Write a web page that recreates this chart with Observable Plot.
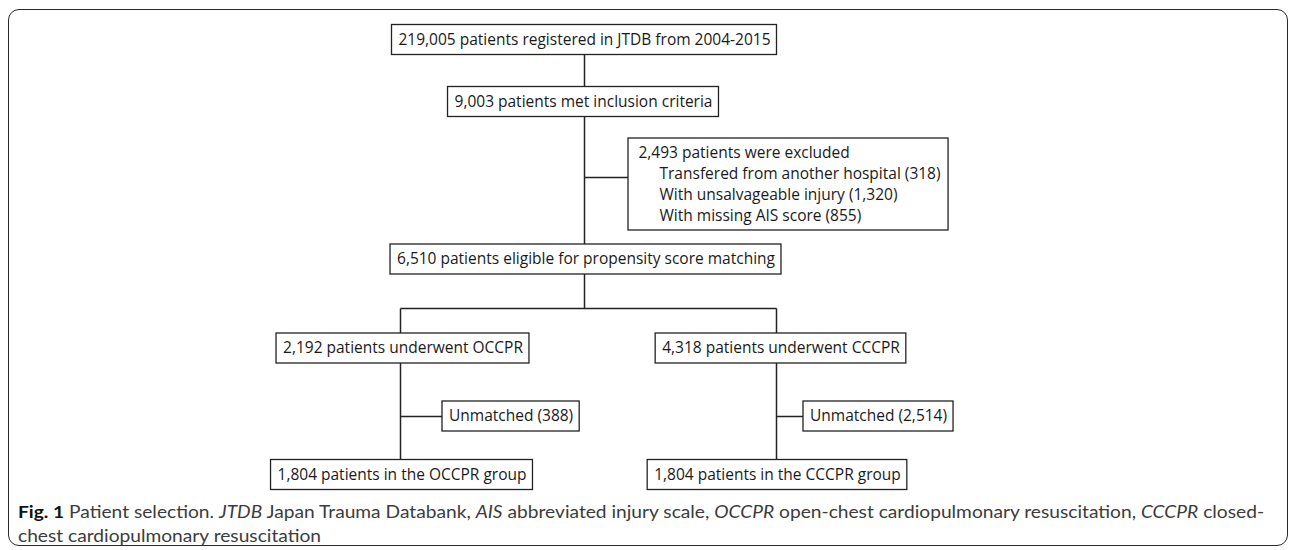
<!DOCTYPE html>
<html>
<head>
<meta charset="utf-8">
<script src="https://cdn.jsdelivr.net/npm/d3@7"></script>
<script src="https://cdn.jsdelivr.net/npm/@observablehq/plot@0.6"></script>
<style>
  html, body { margin: 0; padding: 0; background: #fff; }
  #wrap { position: relative; width: 1290px; height: 550px; overflow: hidden; }
  #frame { position: absolute; left: 8px; top: 9px; width: 1280px; height: 537px; box-sizing: border-box;
           border: 1.6px solid #2a2a2a; border-radius: 11px; }
  #chart { position: absolute; left: 0; top: 0; }
  #caption { position: absolute; left: 18px; top: 500px; font-family: Lato, "Open Sans", sans-serif;
             font-size: 17px; line-height: 24px; color: #3c3c3c; white-space: nowrap; transform-origin: 0 0; }
  #caption b { color: #111; font-weight: 700; }
</style>
</head>
<body>
<div id="wrap">
  <div id="frame"></div>
  <div id="chart"></div>
  <div id="caption"><span id="cap1"><b>Fig. 1</b> Patient selection. <i>JTDB</i> Japan Trauma Databank, <i>AIS</i> abbreviated injury scale, <i>OCCPR</i> open-chest cardiopulmonary resuscitation, <i>CCCPR</i> closed-</span><br><span>chest cardiopulmonary resuscitation</span></div>
</div>
<script>
// ---- data ----
const boxIds = ["registered", "included", "eligible", "occpr", "cccpr", "unmatchedO", "unmatchedC", "finalO", "finalC"];
const boxLabels = [
  "219,005 patients registered in JTDB from 2004-2015",
  "9,003 patients met inclusion criteria",
  "6,510 patients eligible for propensity score matching",
  "2,192 patients underwent OCCPR",
  "4,318 patients underwent CCCPR",
  "Unmatched (388)",
  "Unmatched (2,514)",
  "1,804 patients in the OCCPR group",
  "1,804 patients in the CCCPR group"
];
const exclusionHeader = "2,493 patients were excluded";
const exclusionReasons = ["Transfered from another hospital", "With unsalvageable injury", "With missing AIS score"];
const exclusionCounts = ["318", "1,320", "855"];

// ---- layout (flowchart geometry) ----
const layout = {
  registered: {cx: 584, cy: 39.5},
  included:   {cx: 583, cy: 101.5},
  eligible:   {cx: 585.5, cy: 259},
  occpr:      {cx: 402.5, cy: 348},
  cccpr:      {cx: 780.5, cy: 348},
  unmatchedO: {left: 442, cy: 416},
  unmatchedC: {left: 803, cy: 416},
  finalO:     {cx: 401.5, cy: 474.5},
  finalC:     {cx: 777, cy: 474.5}
};
const boxH = 30, pad = 6.5;
const excl = {left: 628, top: 138, bottom: 230, textX: 638, indentX: 659, lineY: [152.5, 173.5, 194.5, 215.5]};
const spineX = 584, splitY = 308, exclBranchY = 177, unmatchedY = 416;

const fontFamily = "'Open Sans', Lato, sans-serif";
const ctx = document.createElement("canvas").getContext("2d");
function measure(t, s) { ctx.font = `${s}px ${fontFamily}`; return ctx.measureText(t).width; }
const fontSize = 100 * 372 / measure(boxLabels[0], 100);

const nodes = boxIds.map((id, i) => {
  const L = layout[id];
  const w = measure(boxLabels[i], fontSize) + 2 * pad;
  const x1 = L.left !== undefined ? L.left : L.cx - w / 2;
  return {id, label: boxLabels[i], x1, x2: x1 + w, y1: L.cy - boxH / 2, y2: L.cy + boxH / 2, tx: x1 + w / 2, ty: L.cy};
});
const byId = Object.fromEntries(nodes.map(n => [n.id, n]));

const exclLines = [exclusionHeader, ...exclusionReasons.map((r, i) => `${r} (${exclusionCounts[i]})`)];
const exclText = exclLines.map((t, i) => ({text: t, x: i === 0 ? excl.textX : excl.indentX, y: excl.lineY[i]}));
const exclRight = d3.max(exclText, d => d.x + measure(d.text, fontSize)) + 8;
const exclBox = [{x1: excl.left, x2: exclRight, y1: excl.top, y2: excl.bottom}];

const oX = 400, cX = 776;
const links = [
  {x1: spineX, y1: byId.registered.ty, x2: spineX, y2: splitY},
  {x1: spineX, y1: exclBranchY, x2: excl.left, y2: exclBranchY},
  {x1: oX, y1: splitY, x2: cX, y2: splitY},
  {x1: oX, y1: splitY, x2: oX, y2: byId.finalO.ty},
  {x1: cX, y1: splitY, x2: cX, y2: byId.finalC.ty},
  {x1: oX, y1: unmatchedY, x2: layout.unmatchedO.left, y2: unmatchedY},
  {x1: cX, y1: unmatchedY, x2: layout.unmatchedC.left, y2: unmatchedY}
];

const chart = Plot.plot({
  width: 1290, height: 500, margin: 0,
  x: {type: "linear", domain: [0, 1290], range: [0, 1290], axis: null},
  y: {type: "linear", domain: [0, 500], range: [0, 500], axis: null},
  style: {background: "transparent"},
  marks: [
    Plot.link(links, {x1: "x1", y1: "y1", x2: "x2", y2: "y2", stroke: "#222", strokeWidth: 1.5}),
    Plot.rect(nodes, {x1: "x1", x2: "x2", y1: "y1", y2: "y2", fill: "white", stroke: "#222", strokeWidth: 1.3}),
    Plot.rect(exclBox, {x1: "x1", x2: "x2", y1: "y1", y2: "y2", fill: "white", stroke: "#222", strokeWidth: 1.3}),
    Plot.text(nodes, {x: "tx", y: "ty", text: "label", textAnchor: "middle", fontSize, fontFamily, fill: "#1a1a1a"}),
    Plot.text(exclText, {x: "x", y: "y", text: "text", textAnchor: "start", fontSize, fontFamily, fill: "#1a1a1a"})
  ]
});
document.getElementById("chart").appendChild(chart);

// fit caption line width to reference
const cap = document.getElementById("caption");
const w1 = document.getElementById("cap1").getBoundingClientRect().width;
cap.style.transform = `scaleX(${1246 / w1})`;
</script>
</body>
</html>
